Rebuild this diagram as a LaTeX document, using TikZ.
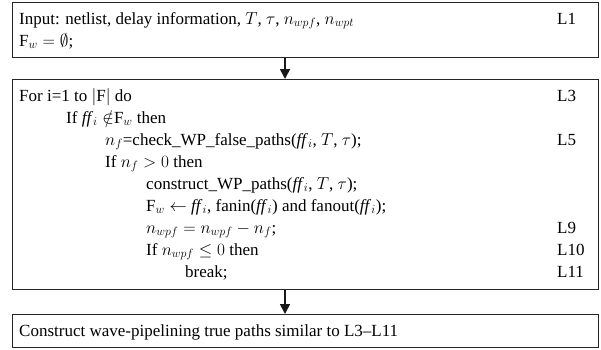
\documentclass[tikz,border=0pt]{standalone}
\usepackage{fontspec}
\usepackage{amssymb}
\setmainfont{Liberation Serif}
\usetikzlibrary{arrows.meta}
\begin{document}
\begin{tikzpicture}[x=1pt,y=-1pt,font=\fontsize{17}{20}\selectfont]
\tikzset{
  box/.style={draw=black!85,line width=1.2pt,anchor=north west,inner sep=0pt,minimum width=586pt},
  ln/.style={anchor=base west,inner sep=0pt},
  flow/.style={line width=1.6pt,black!90,-{Triangle[width=10pt,length=10pt]}}
}
\useasboundingbox (0,0) rectangle (601,349);
% boxes
\node[box,minimum height=55pt] (b1) at (12,2) {};
\node[box,minimum height=210pt] (b2) at (12,79) {};
\node[box,minimum height=33pt] (b3) at (12,314) {};
\coordinate (ax) at (285,0);
\draw[flow] (b1.south -| ax) -- (b2.north -| ax);
\draw[flow] (b2.south -| ax) -- (b3.north -| ax);
% box 1
\node[ln] (t1) at (19,24) {Input: netlist, delay information, $T$, $\tau$, $n_{wpf}$, $n_{wpt}$};
\node[ln] (t2) at (19,46) {F$_w = \emptyset$;};
\node[ln] (l1) at (557,24) {L1};
% box 2
\node[ln] (t3) at (19,101) {For i=1 to $|$F$|$ do};
\node[ln] (t4) at (66,123) {If \textit{ff}$_i \notin$F$_w$ then};
\node[ln] (t5) at (105,145) {$n_f$=check\_WP\_false\_paths(\textit{ff}$_i$, $T$, $\tau$);};
\node[ln] (t6) at (105,167) {If $n_f > 0$ then};
\node[ln] (t7) at (146,189) {construct\_WP\_paths(\textit{ff}$_i$, $T$, $\tau$);};
\node[ln] (t8) at (146,211) {F$_w \leftarrow$ \textit{ff}$_i$, fanin(\textit{ff}$_i$) and fanout(\textit{ff}$_i$);};
\node[ln] (t9) at (146,233) {$n_{wpf} = n_{wpf} - n_f$;};
\node[ln] (t10) at (146,255) {If $n_{wpf} \leq 0$ then};
\node[ln] (t11) at (185,277) {break;};
\node[ln] (l3) at (557,101) {L3};
\node[ln] (l5) at (557,145) {L5};
\node[ln] (l9) at (557,233) {L9};
\node[ln] (l10) at (557,255) {L10};
\node[ln] (l11) at (557,277) {L11};
% box 3
\node[ln] (t12) at (19,336) {Construct wave-pipelining true paths similar to L3--L11};
\end{tikzpicture}
\end{document}
